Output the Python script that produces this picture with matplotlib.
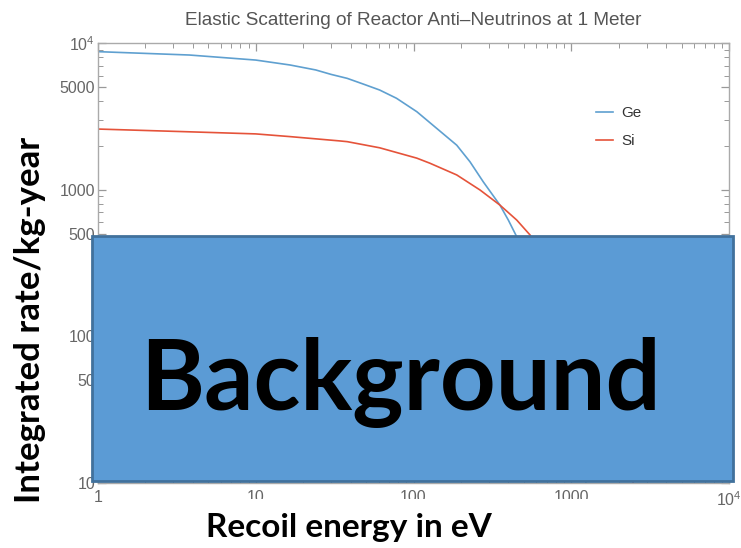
import matplotlib
matplotlib.use("Agg")
import matplotlib.pyplot as plt
from matplotlib.patches import Rectangle
from matplotlib.ticker import FixedLocator, FixedFormatter, NullFormatter

# integrated rate curves (recoil energy in eV -> rate per kg-year)
ge_energy = [1, 3.8, 10, 16.5, 24, 30, 38, 48, 61, 78, 105, 188, 228, 277,
             353, 399, 451, 700, 1000, 1240]
ge_rate = [8730, 8280, 7650, 7080, 6550, 6110, 5740, 5250, 4780, 4200, 3400,
           2010, 1550, 1130, 785, 621, 478, 150, 40, 10]
si_energy = [1, 3.8, 10, 16.5, 34, 38, 61, 105, 127, 188, 264, 353, 451, 548, 800,
             1200, 1800, 2470]
si_rate = [2590, 2480, 2400, 2300, 2150, 2125, 1930, 1640, 1515, 1260, 995, 785, 621,
           491, 250, 110, 35, 10]

yticks = [10, 50, 100, 500, 1000, 5000, 10000]
ytick_labels = ["10", "50", "100", "500", "1000", "5000", r"10$^4$"]
xticks = [1, 10, 100, 1000, 10000]
xtick_labels = ["1", "10", "100", "1000", r"10$^4$"]

plt.rcParams["mathtext.fontset"] = "custom"
plt.rcParams["mathtext.rm"] = "Liberation Sans"
plt.rcParams["font.family"] = "Liberation Sans"

fig = plt.figure(figsize=(7.41, 5.48), dpi=100)
ax = fig.add_axes([98 / 741, 65 / 548, 631 / 741, 440 / 548])

ax.plot(ge_energy, ge_rate, color="#5fa0d0", lw=1.2, label="Ge")
ax.plot(si_energy, si_rate, color="#e5533a", lw=1.2, label="Si")
ax.set_xscale("log")
ax.set_yscale("log")
ax.set_xlim(1, 10000)
ax.set_ylim(10, 10000)

grey = "#666666"
for s in ax.spines.values():
    s.set_color("#aaaaaa")
    s.set_linewidth(1.0)

ax.yaxis.set_major_locator(FixedLocator(yticks))
ax.yaxis.set_major_formatter(FixedFormatter(ytick_labels))
ax.xaxis.set_major_locator(FixedLocator(xticks))
ax.xaxis.set_major_formatter(FixedFormatter(xtick_labels))
ax.yaxis.set_minor_formatter(NullFormatter())
ax.xaxis.set_minor_formatter(NullFormatter())
ax.tick_params(which="both", direction="in", top=True, right=True, colors="#999999",
               labelcolor=grey, labelsize=11.5)
ax.tick_params(which="major", length=6, width=0.9)
ax.tick_params(which="minor", length=3.5, width=0.7)
ax.tick_params(axis="y", pad=2)
ax.tick_params(axis="x", pad=5)

ax.set_title("Elastic Scattering of Reactor Anti\u2013Neutrinos at 1 Meter",
             color="#555555", fontsize=13.7, pad=13)

ax.legend(loc="upper left", bbox_to_anchor=(0.767, 0.887), frameon=False,
          fontsize=11, handlelength=1.1, handletextpad=0.6, labelspacing=0.9,
          borderpad=0.4, labelcolor="#333333")

# overlay box with label
fig.patches.append(Rectangle((92 / 741, (548 - 481) / 548), 641 / 741, 245 / 548,
                             transform=fig.transFigure, facecolor="#5b9bd5",
                             edgecolor="#41719c", lw=2, zorder=5))
fig.text(400 / 741, 1 - 383 / 548, "Background", fontsize=70, fontweight="bold",
         family="Lato", color="black", ha="center", va="center", zorder=6)

# white strip under the x axis where the axis title sits
fig.patches.append(Rectangle((110 / 741, 0), 595 / 741, 49 / 548,
                             transform=fig.transFigure, facecolor="white",
                             edgecolor="none", zorder=4))
fig.text(349 / 741, 1 - 537 / 548, "Recoil energy in eV", fontsize=24,
         fontweight="bold", family="Lato", color="black", ha="center",
         va="baseline", zorder=6)
fig.text(30 / 741, 1 - 320 / 548, "Integrated rate/kg-year", fontsize=25,
         fontweight="bold", family="Lato", color="black", ha="center",
         va="center", rotation=90, zorder=6)

fig.savefig("out.png", dpi=100)
